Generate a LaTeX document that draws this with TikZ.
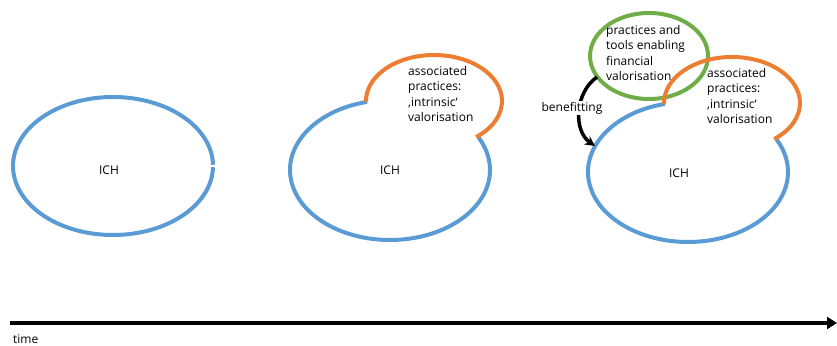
\documentclass[tikz,border=0pt]{standalone}
\usepackage{fontspec}
\setmainfont{Open Sans}
\usetikzlibrary{arrows.meta}
\definecolor{ichblue}{RGB}{91,155,213}
\definecolor{assocorange}{RGB}{237,125,49}
\definecolor{fingreen}{RGB}{112,173,71}
\begin{document}
\begin{tikzpicture}[x=1pt,y=1pt,
  ring/.style={line width=4pt},
  lbl/.style={font=\fontsize{12}{15.5}\selectfont, inner sep=0pt},
  multi/.style={lbl, align=left, anchor=north west}]
\useasboundingbox (0,0) rectangle (837,345);
% ---------- stage 1 ----------
\draw[ring, ichblue] ([shift={(1:100 and 69)}]113,179) arc[start angle=1, end angle=359, x radius=100, y radius=69];
\node[lbl] (ich1) at (109,175) {ICH};
% ---------- stage 2 ----------
\draw[ring, ichblue] ([shift={(103.3:100 and 70)}]390,175) arc[start angle=103.3, end angle=387.7, x radius=100, y radius=70];
\draw[ring, assocorange] ([shift={(181:68 and 46)}]434,244) arc[start angle=181, end angle=-51.7, x radius=68, y radius=46];
\node[lbl] (ich2) at (390,175) {ICH};
\node[multi] (assoc2) at (408,279) {associated\\practices:\\‚intrinsic‘\\valorisation};
% ---------- stage 3 ----------
\draw[ring, ichblue] ([shift={(103.3:100 and 70)}]688,173) arc[start angle=103.3, end angle=387.7, x radius=100, y radius=70];
\draw[ring, fingreen] (649,289) ellipse[x radius=59, y radius=43];
\draw[ring, assocorange] ([shift={(181:68 and 46)}]732,242) arc[start angle=181, end angle=-51.7, x radius=68, y radius=46];
\node[lbl] (ich3) at (679,172) {ICH};
\node[multi] (assoc3) at (707,277) {associated\\practices:\\‚intrinsic‘\\valorisation};
\node[multi] (fin) at (606,320) {practices and\\tools enabling\\financial\\valorisation};
\coordinate (bstart) at (597,268);
\coordinate (bend) at (595,199);
\draw[line width=3.5pt, -{Stealth[length=10pt,width=10pt]}] (bstart) to[out=215, in=145] (bend);
\node[lbl, fill=white, inner sep=1pt] (ben) at (572,237) {benefitting};
% ---------- time axis ----------
\coordinate (t0) at (10,22);
\coordinate (t1) at (837,22);
\draw[line width=4.5pt, -{Triangle[length=10pt,width=12pt]}] (t0) -- (t1);
\node[lbl, anchor=west] (time) at (13,6) {time};
\end{tikzpicture}
\end{document}
